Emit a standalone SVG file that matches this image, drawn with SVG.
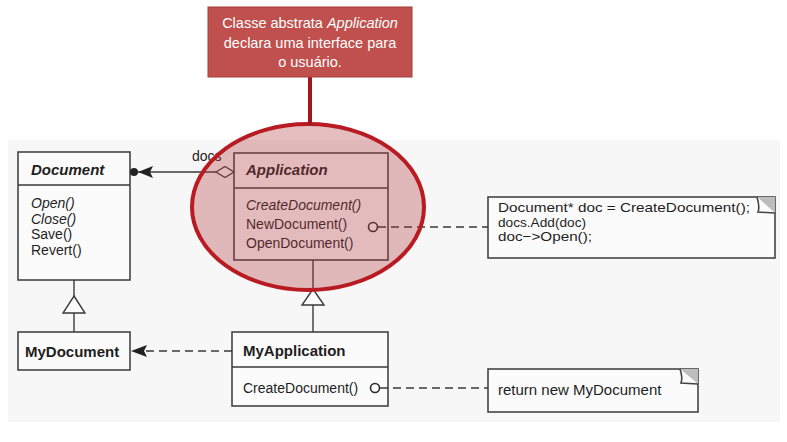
<svg xmlns="http://www.w3.org/2000/svg" width="787" height="442" viewBox="0 0 787 442">
<defs>
<style>
.box{fill:#fcfbfb;stroke:#444;stroke-width:1.6}
.ln{stroke:#3a3a3a;stroke-width:1.4;fill:none}
.dash{stroke:#3a3a3a;stroke-width:1.5;fill:none;stroke-dasharray:8 5}
.pin{fill:#ffffff;stroke:#2a2a2a;stroke-width:1.6}
.t{font-family:"Liberation Sans",Arial,sans-serif;font-size:14px;fill:#1e1e1e}
.tb{font-family:"Liberation Sans",Arial,sans-serif;font-size:15px;font-weight:bold;fill:#1e1e1e}
.note{font-family:"Liberation Sans",Arial,sans-serif;font-size:13.5px;fill:#1e1e1e}
.note2{font-family:"Liberation Sans",Arial,sans-serif;font-size:15px;fill:#1e1e1e}
.ct{font-family:"Liberation Sans",Arial,sans-serif;font-size:14.5px;fill:#fff;text-anchor:middle}
</style>
</defs>
<rect width="787" height="442" fill="#ffffff"/>
<rect x="8" y="140" width="772" height="282" fill="#f8f7f7"/>

<g id="document">
<rect class="box" x="18" y="152" width="112" height="128"/>
<line class="ln" x1="18" y1="185" x2="130" y2="185"/>
<text class="tb" x="31" y="175" font-style="italic">Document</text>
<text class="t" x="31" y="208" font-style="italic">Open()</text>
<text class="t" x="31" y="224" font-style="italic">Close()</text>
<text class="t" x="31" y="239">Save()</text>
<text class="t" x="31" y="255">Revert()</text>
</g>

<g id="application">
<rect class="box" x="234" y="153" width="154" height="107"/>
<line class="ln" x1="234" y1="188" x2="388" y2="188"/>
<text class="tb" x="246" y="175" font-style="italic">Application</text>
<text class="t" x="246" y="210" font-style="italic">CreateDocument()</text>
<text class="t" x="246" y="229">NewDocument()</text>
<text class="t" x="246" y="248">OpenDocument()</text>
</g>

<g id="mydocument">
<rect class="box" x="18" y="332" width="112" height="38"/>
<text class="tb" x="25" y="357">MyDocument</text>
</g>

<g id="myapplication">
<rect class="box" x="232" y="332" width="156" height="74"/>
<line class="ln" x1="232" y1="367" x2="388" y2="367"/>
<text class="tb" x="243" y="356">MyApplication</text>
<text class="t" x="243" y="393">CreateDocument()</text>
</g>

<g id="note1">
<rect class="box" x="488" y="197" width="287" height="61"/>
<path d="M757,197 L775,197 L775,213 Z" fill="#bdbdbd"/>
<path d="M757,197 Q760,207 758,212 L775,213" fill="#fcfbfb" stroke="#444" stroke-width="1.6"/>
<text class="note" x="498" y="212" textLength="252" lengthAdjust="spacingAndGlyphs">Document* doc = CreateDocument();</text>
<text class="note" x="498" y="226.5" textLength="88" lengthAdjust="spacingAndGlyphs">docs.Add(doc)</text>
<text class="note" x="498" y="241" textLength="94" lengthAdjust="spacingAndGlyphs">doc−&gt;Open();</text>
</g>

<g id="note2">
<rect class="box" x="488" y="369" width="210" height="43"/>
<path d="M680,369 L698,369 L698,384 Z" fill="#bdbdbd"/>
<path d="M680,369 Q683,378 681,383 L698,384" fill="#fcfbfb" stroke="#444" stroke-width="1.6"/>
<text class="note2" x="498" y="395">return new MyDocument</text>
</g>

<g id="connectors">
<line class="ln" x1="131" y1="172" x2="216" y2="172"/>
<circle cx="134" cy="172" r="4" fill="#222"/>
<path d="M138,172 L153,166 L150,172 L153,178 Z" fill="#222"/>
<path d="M216,172 L225,166.5 L234,172 L225,177.5 Z" fill="#fcfbfb" stroke="#3a3a3a" stroke-width="1.4"/>
<text class="t" x="192" y="161">docs</text>
<line class="ln" x1="74" y1="280" x2="74" y2="296"/>
<path d="M74,296 L85,313 L63,313 Z" fill="#fcfbfb" stroke="#3a3a3a" stroke-width="1.4"/>
<line class="ln" x1="74" y1="313" x2="74" y2="332"/>
<line class="ln" x1="313" y1="260" x2="313" y2="289"/>
<path d="M313,289 L324,305 L302,305 Z" fill="#fcfbfb" stroke="#3a3a3a" stroke-width="1.4"/>
<line class="ln" x1="313" y1="305" x2="313" y2="332"/>
<line class="dash" x1="232" y1="351" x2="146" y2="351"/>
<path d="M131,351 L147,345 L144,351 L147,357 Z" fill="#222"/>
<line class="dash" x1="378" y1="227" x2="488" y2="227"/>
<circle class="pin" cx="373" cy="227" r="4.5"/>
<line class="dash" x1="380" y1="388" x2="488" y2="388"/>
<circle class="pin" cx="375" cy="388" r="4.5"/>
</g>

<g id="highlight">
<ellipse cx="308" cy="207" rx="116" ry="83" fill="#b03a3f" fill-opacity="0.33" stroke="#b81c22" stroke-width="4"/>
<line x1="310" y1="77" x2="310" y2="125" stroke="#a3161c" stroke-width="4"/>
</g>

<g id="callout">
<rect x="208" y="7" width="204" height="70" fill="#c0504d" stroke="#a63f3c" stroke-width="1"/>
<text class="ct" x="310" y="28">Classe abstrata <tspan font-style="italic">Application</tspan></text>
<text class="ct" x="310" y="48">declara uma interface para</text>
<text class="ct" x="310" y="67">o usuário.</text>
</g>
</svg>
